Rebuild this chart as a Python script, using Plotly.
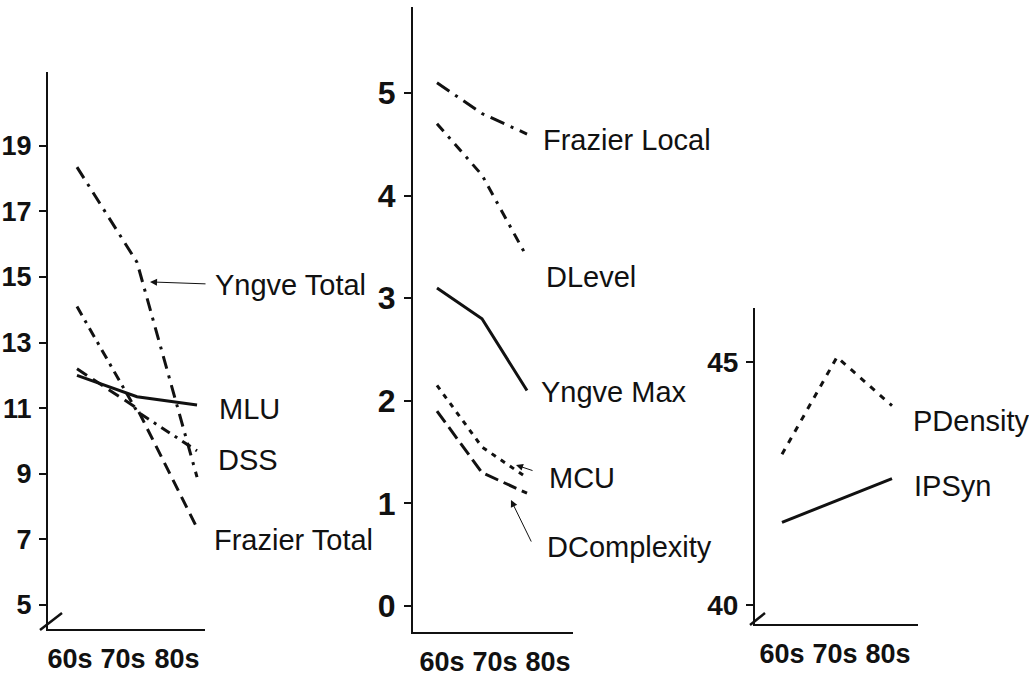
import plotly.graph_objects as go

# ---------------- data ----------------
decades = ["60s", "70s", "80s"]
xpos = [0, 1, 2]

# left panel
yngve_total = [18.35, 15.45, 8.9]
mlu = [12.0, 11.35, 11.1]
dss = [14.1, 10.9, 9.7]
frazier_total = [12.2, 11.0, 7.35]
left_ticks = [5, 7, 9, 11, 13, 15, 17, 19]

# middle panel
frazier_local = [5.1, 4.8, 4.6]
dlevel = [4.7, 4.2, 3.4]
yngve_max = [3.1, 2.8, 2.1]
mcu = [2.15, 1.55, 1.25]
dcomplexity = [1.9, 1.3, 1.1]
mid_ticks = [0, 1, 2, 3, 4, 5]

# right panel
pdensity = [43.1, 45.1, 44.1]
ipsyn = [41.7, 42.15, 42.6]
right_ticks = [40, 45]

W, H = 1029, 681
def px(x):
    return x / W
def py(y):
    return 1 - y / H

BLACK = "#111111"
TICKFONT = "Liberation Sans, Arial, Helvetica"
LABELFONT = "Liberation Sans, Arial, Helvetica"

fig = go.Figure()

def add(x, y, dash, axis):
    xa = "x" if axis == 1 else f"x{axis}"
    ya = "y" if axis == 1 else f"y{axis}"
    fig.add_trace(go.Scatter(x=x, y=y, mode="lines", xaxis=xa, yaxis=ya,
                             line=dict(color=BLACK, width=3, dash=dash),
                             showlegend=False, hoverinfo="skip"))

add(xpos, yngve_total, "13px,7px,3px,7px", 1)
add(xpos, dss, "10px,6px,3px,6px", 1)
add(xpos, frazier_total, "12px,7px", 1)
add(xpos, mlu, "solid", 1)

add(xpos, frazier_local, "15px,7px,3px,7px", 2)
add(xpos, dlevel, "10px,7px,3px,7px", 2)
add(xpos, yngve_max, "solid", 2)
add(xpos, mcu, "5px,6px", 2)
add(xpos, dcomplexity, "14px,6px", 2)

add(xpos, pdensity, "6px,7px", 3)
add(xpos, ipsyn, "solid", 3)

def xaxis(dom, rng, tickvals, anchor):
    return dict(domain=dom, range=rng, tickvals=tickvals, ticktext=decades,
                showline=True, linecolor=BLACK, linewidth=2, ticks="",
                tickangle=0, automargin=False, anchor=anchor,
                ticklabelstandoff=5, showgrid=False, zeroline=False,
                tickfont=dict(family=TICKFONT, size=27, color=BLACK, weight="bold"),
                fixedrange=True)

def yaxis(dom, rng, tickvals, size, anchor):
    return dict(domain=dom, range=rng, tickvals=tickvals, showline=True,
                linecolor=BLACK, linewidth=2, ticks="outside", ticklen=7,
                tickwidth=1.5, tickcolor=BLACK, showgrid=False, zeroline=False,
                ticklabelstandoff=2, anchor=anchor, automargin=False,
                tickfont=dict(family=TICKFONT, size=size, color=BLACK, weight="bold"),
                fixedrange=True)

fig.update_layout(
    width=W, height=H, margin=dict(l=0, r=0, t=0, b=0, autoexpand=False),
    paper_bgcolor="white", plot_bgcolor="white", showlegend=False,
    xaxis=xaxis([px(48), px(205)], [-0.483, 2.133], [-0.117, 0.767, 1.667], "y"),
    yaxis=yaxis([py(629), py(72)], [4.268, 21.25], left_ticks, 27, "x"),
    xaxis2=xaxis([px(413), px(573)], [-0.533, 3.022], [0.111, 1.289, 2.467], "y2"),
    yaxis2=yaxis([py(632), py(7)], [-0.253, 5.838], mid_ticks, 32, "x2"),
    xaxis3=xaxis([px(755), px(918)], [-0.491, 2.473], [0, 0.964, 1.927], "y3"),
    yaxis3=yaxis([py(624), py(308)], [39.609, 46.11], right_ticks, 28, "x3"),
)

# series labels
labels = [
    ("Yngve Total", 213, 285), ("MLU", 217, 409), ("DSS", 216, 460),
    ("Frazier Total", 212, 540),
    ("Frazier Local", 541, 140), ("DLevel", 544, 277), ("Yngve Max", 539, 392),
    ("MCU", 547, 478), ("DComplexity", 545, 547),
    ("PDensity", 911, 421), ("IPSyn", 912, 486),
]
for text, lx, ly in labels:
    fig.add_annotation(text=text, x=px(lx), y=py(ly), xref="paper", yref="paper",
                       xanchor="left", yanchor="middle", showarrow=False,
                       font=dict(family=LABELFONT, size=29, color=BLACK))

# pointer arrows
fig.add_annotation(x=1.217, y=14.85, xref="x", yref="y", ax=57, ay=2, text="",
                   showarrow=True, arrowhead=2, arrowsize=1.4, arrowwidth=1, arrowcolor=BLACK)
fig.add_annotation(x=1.756, y=1.374, xref="x2", yref="y2", ax=18, ay=6, text="",
                   showarrow=True, arrowhead=2, arrowsize=1.4, arrowwidth=1, arrowcolor=BLACK)
fig.add_annotation(x=1.644, y=1.033, xref="x2", yref="y2", ax=21, ay=43, text="",
                   showarrow=True, arrowhead=2, arrowsize=1.4, arrowwidth=1, arrowcolor=BLACK)

# axis break marks
fig.add_shape(type="line", xref="paper", yref="paper", x0=px(40), y0=py(630), x1=px(62), y1=py(613),
              line=dict(color=BLACK, width=2.5))
fig.add_shape(type="line", xref="paper", yref="paper", x0=px(750), y0=py(625), x1=px(765), y1=py(613),
              line=dict(color=BLACK, width=2.5))

fig.write_html("out.html")
